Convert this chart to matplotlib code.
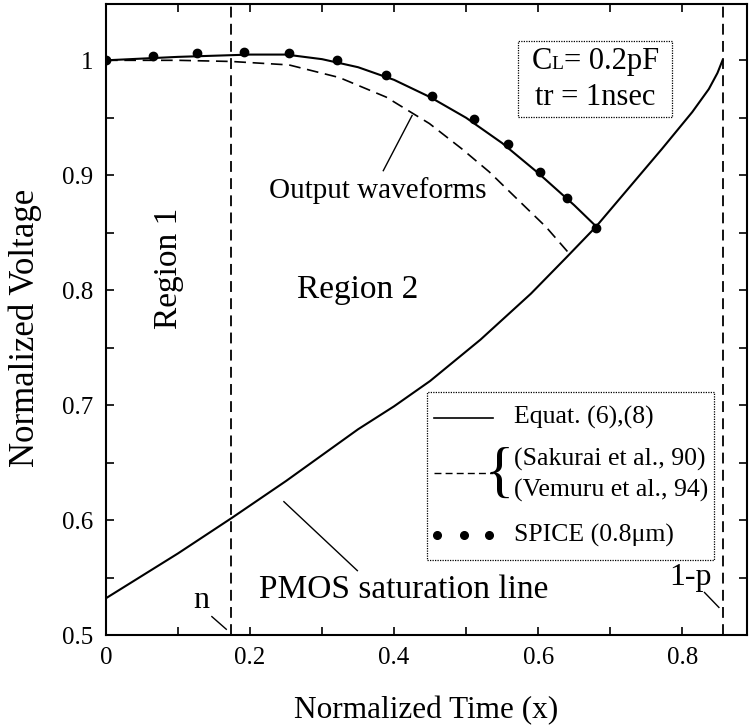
import matplotlib
matplotlib.use("Agg")
import matplotlib.pyplot as plt
from matplotlib.patches import Rectangle
from matplotlib.ticker import MultipleLocator
from matplotlib.offsetbox import TextArea, HPacker, AnnotationBbox

# PMOS saturation line
sat_x = [0, 0.1, 0.175, 0.25, 0.31, 0.35, 0.40, 0.45, 0.52, 0.59, 0.64, 0.68,
         0.726, 0.772, 0.814, 0.837, 0.849, 0.856]
sat_y = [0.532, 0.571, 0.602, 0.634, 0.661, 0.679, 0.699, 0.721, 0.757, 0.797, 0.829, 0.855,
         0.889, 0.923, 0.955, 0.975, 0.989, 1.0]

# Equat. (6),(8) output waveform
eq_x = [0, 0.1, 0.2, 0.25, 0.3, 0.35, 0.4, 0.45, 0.5, 0.55, 0.6, 0.65, 0.683]
eq_y = [1.0, 1.003, 1.005, 1.005, 1.001, 0.994, 0.983, 0.968, 0.950, 0.928, 0.902, 0.874, 0.854]

# (Sakurai et al., 90) / (Vemuru et al., 94)
sak_x = [0, 0.1, 0.174, 0.254, 0.324, 0.389, 0.449, 0.494, 0.532, 0.578, 0.611, 0.643]
sak_y = [1.0, 1.0, 0.999, 0.996, 0.985, 0.968, 0.945, 0.923, 0.903, 0.875, 0.855, 0.832]

# SPICE (0.8um)
spice_x = [0, 0.065, 0.126, 0.192, 0.254, 0.321, 0.389, 0.453, 0.511, 0.558, 0.603, 0.640, 0.681]
spice_y = [1.0, 1.0035, 1.006, 1.007, 1.0065, 1.0, 0.987, 0.969, 0.949, 0.927, 0.903, 0.880, 0.854]

# region borders
x_n = 0.174
x_1p = 0.856

plt.rcParams['font.family'] = ['Liberation Serif', 'DejaVu Serif']

fig = plt.figure(figsize=(7.49, 7.27), dpi=100)
ax = fig.add_axes([106 / 749, 1 - 635 / 727, 641 / 749, 631 / 727])

ax.plot(sat_x, sat_y, color='black', lw=1.5)
ax.plot(eq_x, eq_y, color='black', lw=1.5)
ax.plot(sak_x, sak_y, color='black', lw=1.2, dashes=(7, 4))
ax.plot(spice_x, spice_y, 'o', color='black', ms=6)

for xv in (x_n, x_1p):
    ax.axvline(xv, color='black', lw=1.3, dashes=(6, 3.5))

ax.set_xlim(0, 0.89)
ax.set_ylim(0.5, 1.049)

ax.xaxis.set_major_locator(MultipleLocator(0.2))
ax.xaxis.set_minor_locator(MultipleLocator(0.1))
ax.yaxis.set_major_locator(MultipleLocator(0.1))
ax.yaxis.set_minor_locator(MultipleLocator(0.05))
ax.xaxis.set_major_formatter(plt.FuncFormatter(lambda v, p: '0' if abs(v) < 1e-9 else f'{v:.1f}'))
ax.yaxis.set_major_formatter(plt.FuncFormatter(lambda v, p: '1' if abs(v - 1) < 1e-9 else f'{v:.1f}'))
ax.tick_params(which='both', direction='in', top=True, right=True, length=6, width=1.2,
               labelsize=18, pad=9)
for s in ax.spines.values():
    s.set_linewidth(1.5)

ax.set_xlabel('Normalized Time (x)', fontsize=22.5)
ax.set_ylabel('Normalized Voltage', fontsize=25)
ax.xaxis.set_label_coords(0.5, -0.097)
ax.yaxis.set_label_coords(-0.1, 0.487)

# region labels and annotations
ax.text(0.0875, 0.819, 'Region 1', rotation=90, fontsize=24, ha='center', va='center')
ax.text(0.35, 0.80, 'Region 2', fontsize=24, ha='center', va='center')
ax.text(0.378, 0.887, 'Output waveforms', fontsize=21, ha='center', va='center')
ax.plot([0.385, 0.425], [0.904, 0.952], color='black', lw=1)
ax.text(0.2125, 0.539, 'PMOS saturation line', fontsize=24, ha='left', va='center')
ax.plot([0.349, 0.247], [0.556, 0.616], color='black', lw=1)
ax.text(0.132, 0.530, 'n', fontsize=23, ha='center', va='center')
ax.plot([0.147, 0.167], [0.516, 0.505], color='black', lw=1)
ax.text(0.812, 0.550, '1-p', fontsize=23, ha='center', va='center')
ax.plot([0.831, 0.851], [0.537, 0.524], color='black', lw=1)

# condition box
ax.add_patch(Rectangle((0.572, 0.951), 0.214, 0.066, fill=False, ec='black', lw=0.9,
                       ls=(0, (1, 1))))
cl_row = HPacker(children=[TextArea('C', textprops=dict(fontsize=22)),
                           TextArea('L', textprops=dict(fontsize=14)),
                           TextArea('= 0.2pF', textprops=dict(fontsize=22))],
                 align='baseline', pad=0, sep=0)
ax.add_artist(AnnotationBbox(cl_row, (0.679, 0.999), frameon=False, box_alignment=(0.5, 0.5)))
ax.text(0.679, 0.968, 'tr = 1nsec', fontsize=22, ha='center', va='center')

# legend box
ax.add_patch(Rectangle((0.445, 0.565), 0.399, 0.146, fill=False, ec='black', lw=0.9,
                       ls=(0, (1, 1))))
ax.plot([0.456, 0.538], [0.689, 0.689], color='black', lw=1.2)
ax.text(0.567, 0.689, 'Equat. (6),(8)', fontsize=18.5, ha='left', va='center')
ax.plot([0.456, 0.538], [0.641, 0.641], color='black', lw=1.0, dashes=(5, 3))
ax.text(0.566, 0.638, '{', fontsize=44, ha='right', va='center')
ax.text(0.567, 0.653, '(Sakurai et al., 90)', fontsize=18.5, ha='left', va='center')
ax.text(0.567, 0.626, '(Vemuru et al., 94)', fontsize=18.5, ha='left', va='center')
ax.plot([0.46, 0.497, 0.532], [0.587, 0.587, 0.587], 'o', color='black', ms=5.5)
ax.text(0.567, 0.587, 'SPICE (0.8\u03bcm)', fontsize=18.5, ha='left', va='center')

fig.savefig('out.png', dpi=100)
